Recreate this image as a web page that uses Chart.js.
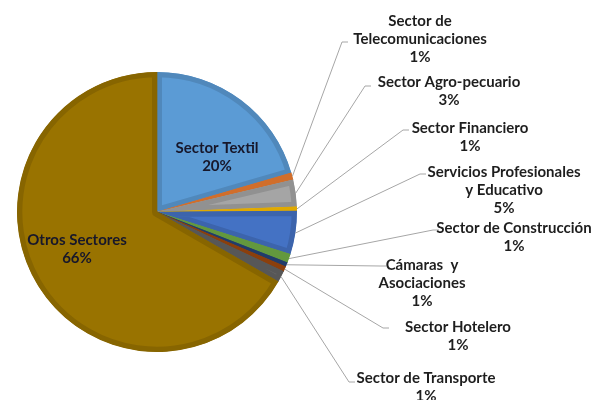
<!DOCTYPE html>
<html>
<head>
<meta charset="utf-8">
<script src="https://cdn.jsdelivr.net/npm/chart.js@4.4.0/dist/chart.umd.min.js"></script>
<style>
  body { margin: 0; background: #fff; }
  canvas { display: block; }
</style>
</head>
<body>
<canvas id="grafico" width="601" height="400"></canvas>
<script>
// Datos (participación por sector)
const categorias = [
  'Sector Textil',
  'Sector de Telecomunicaciones',
  'Sector Agro-pecuario',
  'Sector Financiero',
  'Servicios Profesionales y Educativo',
  'Sector de Construcción',
  'Cámaras y Asociaciones',
  'Sector Hotelero',
  'Sector de Transporte',
  'Otros Sectores'
];
const valores = [20.5, 0.8, 3.1, 0.5, 5.0, 1.0, 0.5, 0.6, 1.3, 66.7];
const porcentajes = ['20%', '1%', '3%', '1%', '5%', '1%', '1%', '1%', '1%', '66%'];

// Colores de las porciones (paleta Office)
const colores = ['#5B9BD5', '#ED7D31', '#A5A5A5', '#FFC000', '#4472C4',
  '#70AD47', '#264478', '#9E480E', '#636363', '#997300'];

// Posición de las etiquetas (líneas de texto, centro, codo de la línea guía)
const etiquetas = [
  { lineas: ['Sector Textil'], cx: 217, cy: 148, dentro: true },
  { lineas: ['Sector de', 'Telecomunicaciones'], cx: 420, cy: 21, ex: 342, ey: 42 },
  { lineas: ['Sector Agro-pecuario'], cx: 449, cy: 82, ex: 365, ey: 86 },
  { lineas: ['Sector Financiero'], cx: 470, cy: 128, ex: 403, ey: 130 },
  { lineas: ['Servicios Profesionales', 'y Educativo'], cx: 504, cy: 172, ex: 420, ey: 174 },
  { lineas: ['Sector de Construcción'], cx: 514, cy: 228, ex: 433, ey: 230 },
  { lineas: ['Cámaras  y', 'Asociaciones'], cx: 422, cy: 265, ex: 380, ey: 266 },
  { lineas: ['Sector Hotelero'], cx: 458, cy: 327, ex: 383, ey: 328 },
  { lineas: ['Sector de Transporte'], cx: 426, cy: 378, ex: 349, ey: 382 },
  { lineas: ['Otros Sectores'], cx: 77, cy: 240, dentro: true }
];

function oscurecer(hex, f) {
  const n = parseInt(hex.slice(1), 16);
  const r = Math.round(((n >> 16) & 255) * f);
  const g = Math.round(((n >> 8) & 255) * f);
  const b = Math.round((n & 255) * f);
  return `rgb(${r},${g},${b})`;
}

// Plugin para dibujar las etiquetas y las líneas guía
const pluginEtiquetas = {
  id: 'etiquetas',
  afterDatasetsDraw(chart) {
    const ctx = chart.ctx;
    const arcos = chart.getDatasetMeta(0).data;
    const alto = 18;
    ctx.save();
    ctx.font = 'bold 15px Lato, "Open Sans", sans-serif';
    ctx.textAlign = 'center';
    ctx.textBaseline = 'middle';
    etiquetas.forEach((et, i) => {
      const arco = arcos[i];
      if (!et.dentro) {
        const medio = (arco.startAngle + arco.endAngle) / 2;
        const x0 = arco.x + Math.cos(medio) * arco.outerRadius;
        const y0 = arco.y + Math.sin(medio) * arco.outerRadius;
        ctx.strokeStyle = '#A6A6A6';
        ctx.lineWidth = 1;
        ctx.beginPath();
        ctx.moveTo(x0, y0);
        ctx.lineTo(et.ex, et.ey);
        ctx.lineTo(et.ex + 6, et.ey);
        ctx.stroke();
        ctx.fillStyle = '#1e1e1e';
      } else {
        ctx.fillStyle = '#17172a';
      }
      const lineas = et.lineas.concat([porcentajes[i]]);
      lineas.forEach((t, k) => {
        ctx.fillText(t, et.cx, et.cy + k * alto);
      });
    });
    ctx.restore();
  }
};

const ctx = document.getElementById('grafico').getContext('2d');
new Chart(ctx, {
  type: 'pie',
  data: {
    labels: categorias,
    datasets: [{
      data: valores,
      backgroundColor: colores,
      borderColor: colores.map(c => oscurecer(c, 0.88)),
      borderWidth: 5,
      borderAlign: 'inner'
    }]
  },
  options: {
    responsive: false,
    devicePixelRatio: 1,
    animation: false,
    layout: {
      padding: { left: 17, top: 72, right: 304, bottom: 48 }
    },
    plugins: {
      legend: { display: false },
      tooltip: { enabled: false }
    }
  },
  plugins: [pluginEtiquetas]
});
</script>
</body>
</html>
